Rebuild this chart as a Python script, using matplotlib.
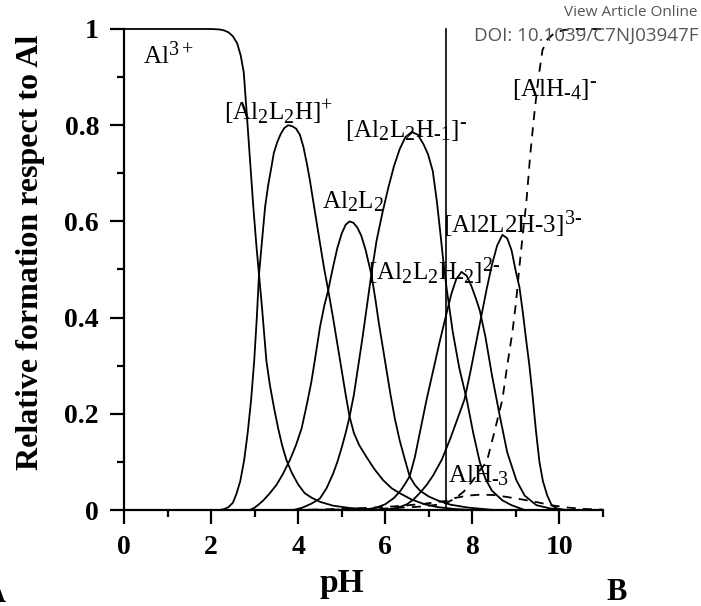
import matplotlib
matplotlib.use('Agg')
import numpy as np
import matplotlib.pyplot as plt
from matplotlib.ticker import MultipleLocator

plt.rcParams['font.family'] = 'Liberation Serif'
plt.rcParams['mathtext.fontset'] = 'custom'
plt.rcParams['mathtext.rm'] = 'Liberation Serif'
plt.rcParams['mathtext.it'] = 'Liberation Serif:italic'
plt.rcParams['mathtext.bf'] = 'Liberation Serif:bold'

# subindices un poco mas grandes, como en la figura original
try:
    import matplotlib._mathtext as _mt
    _mt.SHRINK_FACTOR = 0.8
except Exception:
    pass

# valores (pH, fraccion)
ph_al3 = [0, 2.0, 2.2, 2.3, 2.4, 2.5, 2.6, 2.68, 2.75, 2.83, 2.9, 2.97, 3.04, 3.1, 3.17, 3.27,
          3.35, 3.45, 3.54, 3.63, 3.73, 3.85, 4.0, 4.15, 4.3, 4.5, 4.8, 5.2, 5.8, 6.5]
al3 = [1, 1, 0.999, 0.997, 0.993, 0.985, 0.97, 0.945, 0.91, 0.81, 0.72, 0.63, 0.55, 0.49, 0.42, 0.31,
       0.26, 0.21, 0.17, 0.135, 0.104, 0.078, 0.053, 0.035, 0.026, 0.017, 0.009, 0.004, 0.001, 0]

ph_al2l2h = [2.2, 2.3, 2.4, 2.5, 2.58, 2.67, 2.76, 2.84, 2.92, 2.99, 3.05, 3.1, 3.17, 3.24, 3.31, 3.38,
             3.44, 3.52, 3.6, 3.68, 3.77, 3.86, 3.95, 4.04, 4.12, 4.2, 4.27, 4.34, 4.42, 4.5, 4.6,
             4.69, 4.8, 4.9, 5.0, 5.09, 5.18, 5.28, 5.4, 5.57, 5.75, 5.95, 6.15, 6.33, 6.6, 6.9,
             7.2, 7.6, 8.0]
al2l2h = [0, 0.002, 0.006, 0.015, 0.033, 0.06, 0.104, 0.16, 0.23, 0.31, 0.4, 0.49, 0.56, 0.63, 0.675, 0.71,
          0.742, 0.765, 0.782, 0.794, 0.80, 0.798, 0.793, 0.78, 0.755, 0.72, 0.685, 0.645, 0.6, 0.555, 0.5,
          0.457, 0.4, 0.345, 0.29, 0.24, 0.194, 0.16, 0.135, 0.11, 0.085, 0.062, 0.045, 0.035, 0.022, 0.012,
          0.006, 0.002, 0]

ph_al2l2 = [2.89, 3.0, 3.1, 3.2, 3.35, 3.5, 3.65, 3.81, 3.95, 4.08, 4.2, 4.3, 4.38, 4.5, 4.6, 4.69,
            4.8, 4.9, 5.0, 5.09, 5.18, 5.27, 5.36, 5.45, 5.55, 5.68, 5.77, 5.85, 5.94, 6.03, 6.12,
            6.22, 6.33, 6.45, 6.56, 6.68, 6.8, 7.0, 7.2, 7.5, 7.9, 8.5]
al2l2 = [0, 0.005, 0.012, 0.02, 0.035, 0.052, 0.075, 0.104, 0.135, 0.17, 0.22, 0.265, 0.31, 0.38, 0.425, 0.457,
         0.505, 0.545, 0.575, 0.593, 0.60, 0.597, 0.587, 0.57, 0.54, 0.49, 0.44, 0.39, 0.34, 0.29, 0.24,
         0.19, 0.145, 0.105, 0.07, 0.052, 0.04, 0.028, 0.02, 0.011, 0.005, 0]

ph_al2l2h_1 = [3.9, 4.1, 4.3, 4.5, 4.65, 4.8, 4.9, 5.0, 5.09, 5.18, 5.28, 5.38, 5.48, 5.58, 5.68, 5.8,
               5.94, 6.07, 6.2, 6.33, 6.46, 6.61, 6.75, 6.88, 6.98, 7.09, 7.18, 7.26, 7.33, 7.41,
               7.55, 7.7, 7.87, 8.02, 8.17, 8.3, 8.45, 8.69, 8.9, 9.2]
al2l2h_1 = [0, 0.005, 0.013, 0.024, 0.045, 0.075, 0.1, 0.13, 0.16, 0.194, 0.24, 0.3, 0.36, 0.425, 0.49, 0.56,
            0.62, 0.67, 0.715, 0.75, 0.775, 0.786, 0.78, 0.76, 0.74, 0.705, 0.645, 0.58, 0.52, 0.46,
            0.37, 0.295, 0.23, 0.16, 0.10, 0.065, 0.04, 0.02, 0.01, 0]

ph_al2l2h_2 = [5.5, 5.8, 6.0, 6.2, 6.35, 6.46, 6.56, 6.68, 6.79, 6.95, 7.1, 7.25, 7.41, 7.52, 7.63, 7.75,
               7.87, 7.98, 8.08, 8.17, 8.3, 8.45, 8.62, 8.8, 9.01, 9.2, 9.47, 9.8, 10.2]
al2l2h_2 = [0, 0.005, 0.012, 0.025, 0.04, 0.055, 0.07, 0.11, 0.159, 0.23, 0.29, 0.35, 0.41, 0.45, 0.48, 0.495,
            0.487, 0.465, 0.44, 0.415, 0.36, 0.28, 0.20, 0.12, 0.062, 0.03, 0.01, 0.003, 0]

ph_al2l2h_3 = [6.0, 6.3, 6.5, 6.65, 6.79, 6.95, 7.1, 7.3, 7.5, 7.66, 7.82, 7.95, 8.08, 8.21, 8.33, 8.45,
               8.57, 8.69, 8.8, 8.9, 9.0, 9.08, 9.16, 9.24, 9.31, 9.38, 9.46, 9.54, 9.62, 9.72, 9.82,
               9.95, 10.1]
al2l2h_3 = [0, 0.005, 0.012, 0.022, 0.035, 0.052, 0.072, 0.105, 0.15, 0.19, 0.23, 0.285, 0.345, 0.405, 0.46, 0.51,
            0.55, 0.572, 0.565, 0.54, 0.495, 0.464, 0.41, 0.35, 0.30, 0.24, 0.165, 0.10, 0.06, 0.03, 0.01,
            0.003, 0]

ph_alh4 = [4.0, 5.0, 6.0, 6.8, 7.2, 7.41, 7.6, 7.8, 8.0, 8.15, 8.33, 8.5, 8.69, 8.8, 8.92, 9.0, 9.08,
           9.16, 9.24, 9.33, 9.43, 9.52, 9.61, 9.72, 9.89, 10.1, 10.4, 10.98]
alh4 = [0, 0.001, 0.003, 0.007, 0.011, 0.015, 0.024, 0.038, 0.06, 0.08, 0.10, 0.16, 0.23, 0.3, 0.37, 0.43, 0.505,
        0.575, 0.64, 0.74, 0.83, 0.9, 0.956, 0.978, 0.992, 0.998, 1.0, 1.0]

ph_alh3 = [3.5, 4.5, 5.5, 6.3, 6.9, 7.4, 7.6, 7.9, 8.2, 8.5, 8.8, 9.2, 9.5, 9.8, 10.2, 10.6, 10.98]
alh3 = [0, 0.001, 0.004, 0.008, 0.013, 0.019, 0.025, 0.03, 0.032, 0.031, 0.027, 0.021, 0.016, 0.01, 0.005,
        0.002, 0.001]

ph_linea = 7.39

fig = plt.figure(figsize=(7.01, 6.06), dpi=100)
ax = fig.add_axes([124/701, 1-510/606, 479/701, 481/606])

lw = 1.3
for xs, ys in [(ph_al3, al3), (ph_al2l2h, al2l2h), (ph_al2l2, al2l2),
               (ph_al2l2h_1, al2l2h_1), (ph_al2l2h_2, al2l2h_2), (ph_al2l2h_3, al2l2h_3)]:
    ax.plot(xs, ys, 'k-', lw=lw, clip_on=False, solid_joinstyle='round')
for xs, ys in [(ph_alh4, alh4), (ph_alh3, alh3)]:
    ax.plot(xs, ys, 'k--', lw=lw, dashes=(5, 4), clip_on=False)

ax.plot([ph_linea, ph_linea], [0, 1], 'k-', lw=1.2, clip_on=False)

ax.set_xlim(0, 11)
ax.set_ylim(0, 1)
ax.spines['top'].set_visible(False)
ax.spines['right'].set_visible(False)
ax.spines['left'].set_linewidth(1.6)
ax.spines['bottom'].set_linewidth(1.6)

ax.xaxis.set_major_locator(MultipleLocator(2))
ax.xaxis.set_minor_locator(MultipleLocator(1))
ax.yaxis.set_major_locator(MultipleLocator(0.2))
ax.yaxis.set_minor_locator(MultipleLocator(0.1))
ax.set_yticks([0, 0.2, 0.4, 0.6, 0.8, 1.0])
ax.set_yticklabels(['0', '0.2', '0.4', '0.6', '0.8', '1'])
ax.set_xticks([0, 2, 4, 6, 8, 10])
ax.tick_params(which='major', direction='out', length=10, width=1.6, labelsize=20, pad=8)
ax.tick_params(which='minor', direction='out', length=5, width=1.6)
for lab in ax.get_xticklabels() + ax.get_yticklabels():
    lab.set_fontweight('bold')

ax.set_xlabel('pH', fontsize=24, fontweight='bold', va='center')
ax.xaxis.set_label_coords(0.455, -0.152)
ax.set_ylabel('Relative formation respect to Al', fontsize=23, fontweight='bold', va='center')
ax.yaxis.set_label_coords(-0.196, 0.536)

# guion corto en sub/superindices
g = '\u2010'
fs = 18
ax.text(0.44, 0.928, r'Al$^{3+}$', fontsize=fs)
ax.text(2.3, 0.81, r'[Al$_2$L$_2$H]$^{+}$', fontsize=fs)
ax.text(5.07, 0.775, '[Al$_2$L$_2$H$_{' + g + '1}$]$^{' + g + '}$', fontsize=fs)
ax.text(4.54, 0.628, r'Al$_2$L$_2$', fontsize=fs)
ax.text(5.6, 0.478, '[Al$_2$L$_2$H$_{' + g + '2}$]$^{2' + g + '}$', fontsize=fs)
ax.text(7.32, 0.576, '[Al2L2H-3]$^{3' + g + '}$', fontsize=fs)
ax.text(8.9, 0.86, '[AlH$_{' + g + '4}$]$^{' + g + '}$', fontsize=fs)
ax.text(7.44, 0.058, 'AlH$_{' + g + '3}$', fontsize=fs)

fig.text(698/701, 1-12/606, 'View Article Online', ha='right', va='center',
         fontsize=11, color='#555555', family='Open Sans')
fig.text(698/701, 1-36/606, 'DOI: 10.1039/C7NJ03947F', ha='right', va='center',
         fontsize=13.5, color='#555555', family='Open Sans')
fig.text(6/701, 1-594/606, 'A', ha='right', va='center', fontsize=22, fontweight='bold')
fig.text(617/701, 1-592/606, 'B', ha='center', va='center', fontsize=22, fontweight='bold')

fig.savefig('out.png', dpi=100)
plt.close(fig)
